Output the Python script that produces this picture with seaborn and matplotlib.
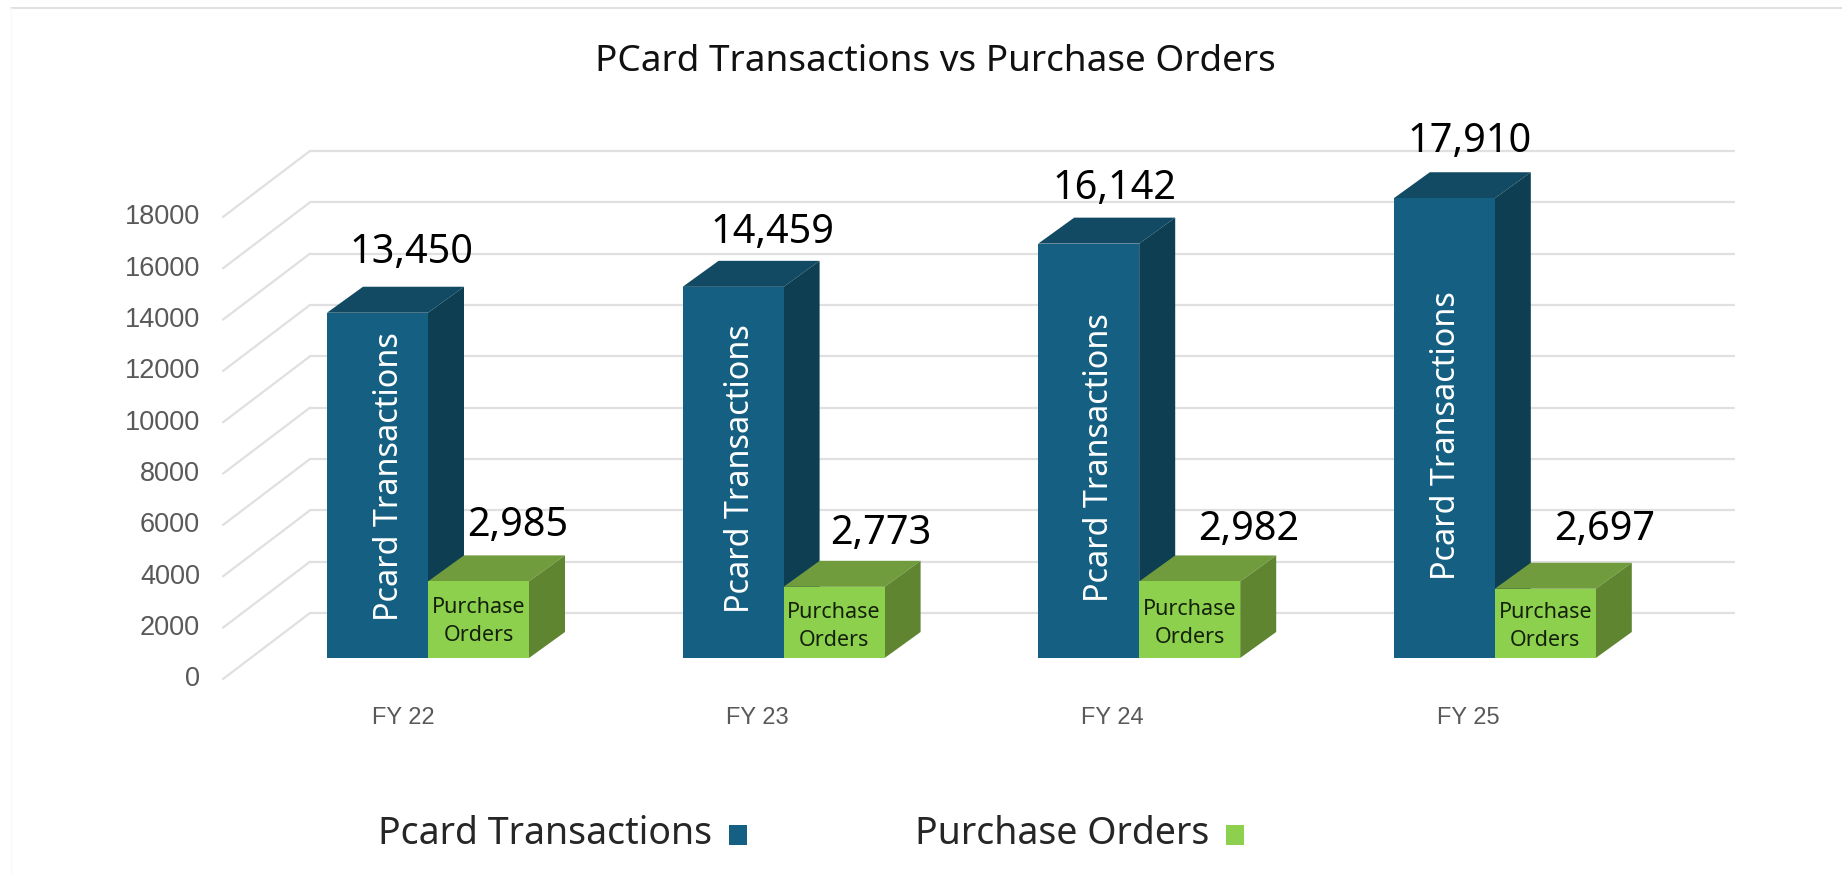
import matplotlib
matplotlib.use('Agg')
import matplotlib.pyplot as plt
from matplotlib.patches import Polygon
import pandas as pd
import seaborn as sns

years = ['FY 22', 'FY 23', 'FY 24', 'FY 25']
pcard = [13450, 14459, 16142, 17910]
orders = [2985, 2773, 2982, 2697]
axis_values = [0, 2000, 4000, 6000, 8000, 10000, 12000, 14000, 16000, 18000]
name_pcard = 'Pcard Transactions'
name_orders = 'Purchase Orders'

df = pd.DataFrame({
    'year': years * 2,
    'series': [name_pcard] * 4 + [name_orders] * 4,
    'value': pcard + orders,
})

W, H = 1842, 875
BASE = 658        # pixel row of the bar bottoms
PX_Y = 0.02567    # pixels per unit
PX_X = 355.6      # pixels per category
X0 = 428          # pixel column of the first category

sns.set_theme(style='white')
plt.rcParams['font.family'] = ['Noto Sans', 'DejaVu Sans']

fig = plt.figure(figsize=(W / 100, H / 100), dpi=100)
ax = fig.add_axes([0, 0, 1, 1])

sns.barplot(data=df, x='year', y='value', hue='series',
            palette={name_pcard: '#156082', name_orders: '#8dd04e'},
            width=202 / PX_X, gap=0, linewidth=0, saturation=1, zorder=4, ax=ax)

ax.set_xlim(-X0 / PX_X, (W - X0) / PX_X)
ax.set_ylim((BASE - H) / PX_Y, BASE / PX_Y)


def dx(px):
    return px / PX_X


def dy(px):
    return px / PX_Y


# 3d walls: back plane grid and the diagonals on the side wall
back = dy(45)
front = dy(-21)
wall_x = dx(310 - X0)
front_x = dx(223 - X0)
right_x = dx(1734 - X0)
for v in axis_values:
    ax.plot([wall_x, right_x], [v + back, v + back], color='#e0e0e0', lw=1.6, zorder=1)
    ax.plot([front_x, wall_x], [v + front, v + back], color='#e0e0e0', lw=1.6, zorder=1)
    ax.text(dx(200 - X0), v + front + dy(-0.5), str(v), ha='right', va='center',
            family='Liberation Sans', fontsize=19.5, color='#595959')

# depth of the bars
depth_x, depth_y = dx(36), dy(26)
styles = [('#124a63', '#0e3e52', 2), ('#719c3d', '#5f8530', 3)]
for bars, (top_col, side_col, z) in zip(ax.containers, styles):
    for b in bars:
        x0, x1, h = b.get_x(), b.get_x() + b.get_width(), b.get_height()
        ax.add_patch(Polygon([(x0, h), (x1, h), (x1 + depth_x, h + depth_y), (x0 + depth_x, h + depth_y)],
                             facecolor=top_col, edgecolor='none', zorder=z))
        ax.add_patch(Polygon([(x1, 0), (x1 + depth_x, depth_y), (x1 + depth_x, h + depth_y), (x1, h)],
                             facecolor=side_col, edgecolor='none', zorder=z))

# value labels, nudged the way they sit in the picture
nudge_pcard = [(34, 60), (39, 54), (26, 55), (25, 56)]
nudge_orders = [(39, 55), (47, 53), (59, 51), (59, 59)]
inner_pcard = [(12, 9), (7, 4), (11, -7), (2, -7)]
inner_orders = [2, 4, 4, 3]
for i, b in enumerate(ax.containers[0]):
    c = b.get_x() + b.get_width() / 2
    h = b.get_height()
    nx, ny = nudge_pcard[i]
    ax.text(c + dx(nx), h + dy(ny), f'{h:,.0f}', ha='center', va='center', fontsize=28.5, color='black', zorder=6)
    ax.text(c + dx(inner_pcard[i][0]), h / 2 + dy(inner_pcard[i][1]), name_pcard, rotation=90, ha='center', va='center',
            fontsize=23.3, color='white', zorder=6)
for i, b in enumerate(ax.containers[1]):
    c = b.get_x() + b.get_width() / 2
    h = b.get_height()
    nx, ny = nudge_orders[i]
    ax.text(c + dx(nx), h + dy(ny), f'{h:,.0f}', ha='center', va='center', fontsize=28.5, color='black', zorder=6)
    ax.text(c, h / 2 - dy(inner_orders[i]), 'Purchase\nOrders', ha='center', va='center', fontsize=15.5,
            linespacing=1.45, color='#14210a', zorder=6)

# category labels
label_shift = [-25, -26, -27, -26]
for i, year in enumerate(years):
    ax.text(i + dx(label_shift[i]), dy(BASE - 718), year, ha='center', va='center',
            family='Liberation Sans', fontsize=17, color='#595959')

ax.text(dx(935 - X0), dy(BASE - 62), 'PCard Transactions vs Purchase Orders',
        ha='center', va='center', fontsize=26.6, color='#111111')
ax.plot([dx(11 - X0), dx(W - X0)], [dy(BASE - 8)] * 2, color='#dcdcdc', lw=1.2)
ax.plot([dx(11 - X0), dx(11 - X0)], [dy(BASE - 8), dy(BASE - H)], color='#f8f8f8', lw=1)

sns.move_legend(ax, 'center', bbox_to_anchor=(811 / W, 1 - 834 / H), ncol=2, frameon=False,
                title=None, markerfirst=False, fontsize=27, handlelength=0.47, handleheight=0.47,
                handletextpad=0.44, columnspacing=4.5)
# squares sit a little lower than the text
for handle in ax.get_legend().legend_handles:
    handle.set_y(handle.get_y() - 3.2)

ax.set_axis_off()
fig.savefig('out.png', dpi=100, facecolor='white')
